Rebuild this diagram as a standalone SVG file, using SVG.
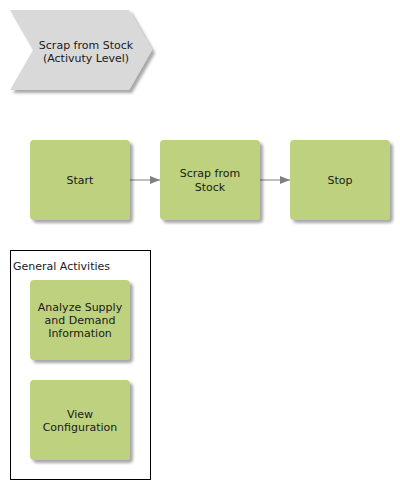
<svg xmlns="http://www.w3.org/2000/svg" width="400" height="490" viewBox="0 0 400 490">
<defs>
<filter id="sh" x="-20%" y="-20%" width="140%" height="140%">
<feGaussianBlur in="SourceAlpha" stdDeviation="1.5"/>
<feOffset dx="3" dy="3" result="b"/>
<feComponentTransfer><feFuncA type="linear" slope="0.35"/></feComponentTransfer>
<feMerge><feMergeNode/><feMergeNode in="SourceGraphic"/></feMerge>
</filter>
<marker id="arr" viewBox="0 0 10 10" refX="10" refY="5" markerWidth="10" markerHeight="10" markerUnits="userSpaceOnUse" orient="auto">
<path d="M0,1 L10,5 L0,9 Z" fill="#808080"/>
</marker>
</defs>
<style>
.act{fill:#BDD17E;filter:url(#sh)}
text{font-family:"DejaVu Sans",Verdana,sans-serif;font-size:11px;fill:#1a1a1a}
.c{text-anchor:middle}
.conn{stroke:#808080;stroke-width:1;fill:none}
</style>
<rect width="400" height="490" fill="#ffffff"/>
<g id="title">
<path d="M10,10 L129,10 L152,50 L129,90 L10,90 L33,50 Z" fill="#D9D9D9" filter="url(#sh)"/>
<text class="c" x="86" y="49">Scrap from Stock</text>
<text class="c" x="86" y="62">(Activuty Level)</text>
</g>
<g id="connectors">
<line class="conn" x1="130" y1="180" x2="160" y2="180" marker-end="url(#arr)"/>
<line class="conn" x1="260" y1="180" x2="290" y2="180" marker-end="url(#arr)"/>
</g>
<g id="start">
<rect class="act" x="30" y="140" width="100" height="80" rx="4"/>
<text class="c" x="80" y="184">Start</text>
</g>
<g id="scrap">
<rect class="act" x="160" y="140" width="100" height="80" rx="4"/>
<text class="c" x="210" y="177">Scrap from</text>
<text class="c" x="210" y="191">Stock</text>
</g>
<g id="stop">
<rect class="act" x="290" y="140" width="100" height="80" rx="4"/>
<text class="c" x="340" y="184">Stop</text>
</g>
<g id="general">
<rect x="10.5" y="250.5" width="140" height="229" fill="#ffffff" stroke="#000000" stroke-width="1"/>
<text x="13" y="270">General Activities</text>
</g>
<g id="analyze">
<rect class="act" x="30" y="280" width="100" height="80" rx="4"/>
<text class="c" x="80" y="311">Analyze Supply</text>
<text class="c" x="80" y="324">and Demand</text>
<text class="c" x="80" y="337">Information</text>
</g>
<g id="view">
<rect class="act" x="30" y="380" width="100" height="80" rx="4"/>
<text class="c" x="80" y="418">View</text>
<text class="c" x="80" y="431">Configuration</text>
</g>
</svg>
